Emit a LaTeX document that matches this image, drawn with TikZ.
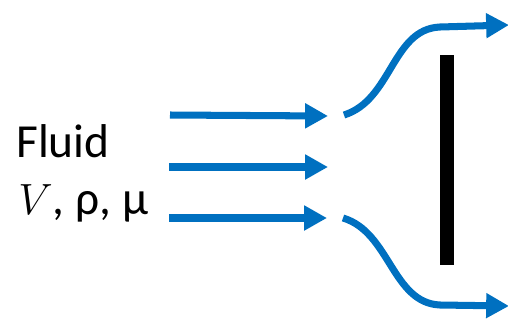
\documentclass[tikz,border=0pt]{standalone}
\usepackage{fontspec}
\setmainfont{Carlito}
\usetikzlibrary{arrows.meta}
\definecolor{flowblue}{HTML}{0070C0}
\begin{document}
\begin{tikzpicture}[x=0.02cm,y=-0.02cm,
  flow/.style={draw=flowblue,line width=4pt,-{Triangle[length=13pt,width=13.5pt]}},
  lbl/.style={inner sep=0pt,anchor=base west,font=\fontsize{27}{32}\selectfont}]
\useasboundingbox (0,0) rectangle (508,322);
% labels
\node[lbl] (fluid) at (16,157) {Fluid};
\node[lbl] (props) at (18,214) {$V$, ρ, μ};
% incoming straight arrows
\coordinate (a1s) at (170,115); \coordinate (a1e) at (328,116);
\coordinate (a2s) at (169,167); \coordinate (a2e) at (328,167);
\coordinate (a3s) at (169,218); \coordinate (a3e) at (327,218);
\draw[flow] (a1s) -- (a1e);
\draw[flow] (a2s) -- (a2e);
\draw[flow] (a3s) -- (a3e);
% plate
\node[fill=black,minimum width=14*0.02cm,minimum height=210*0.02cm,inner sep=0pt] (plate) at (447,160) {};
% deflected streams
\coordinate (t1) at (344,115); \coordinate (t2) at (440,27); \coordinate (t3) at (509,25);
\coordinate (b1) at (343,218); \coordinate (b2) at (440,305); \coordinate (b3) at (509,306);
\draw[flow] (t1) .. controls (392,100) and (392,29) .. (t2) -- (t3);
\draw[flow] (b1) .. controls (390,232) and (392,303) .. (b2) -- (b3);
\end{tikzpicture}
\end{document}
